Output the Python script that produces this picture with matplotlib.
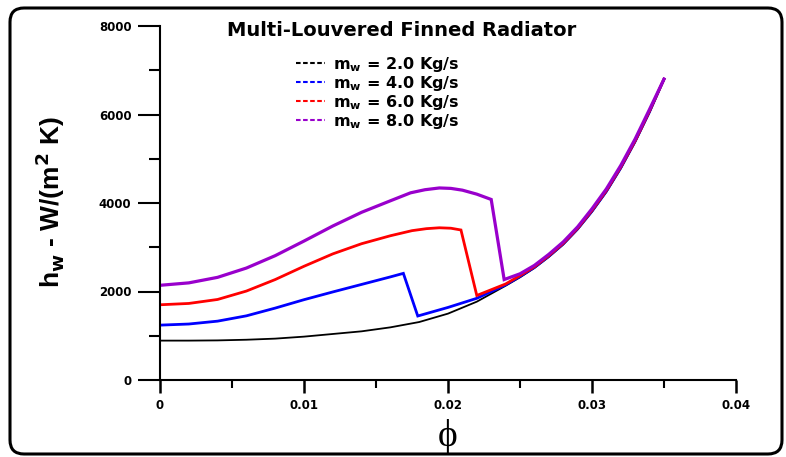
import numpy as np
import matplotlib
matplotlib.use("Agg")
import matplotlib.pyplot as plt
from matplotlib.lines import Line2D
from matplotlib.patches import FancyBboxPatch
from matplotlib.transforms import IdentityTransform

# values
x_black = [0, 0.002, 0.004, 0.006, 0.008, 0.010, 0.012, 0.014, 0.016, 0.018,
           0.020, 0.022, 0.024, 0.025, 0.026, 0.027, 0.028, 0.029, 0.030,
           0.031, 0.032, 0.033, 0.034, 0.035]
y_black = [890, 890, 895, 910, 935, 980, 1040, 1100, 1190, 1310,
           1500, 1770, 2130, 2320, 2530, 2780, 3060, 3400, 3800,
           4250, 4780, 5380, 6050, 6790]

x_blue = [0, 0.002, 0.004, 0.006, 0.008, 0.010, 0.012, 0.014, 0.016, 0.0169,
          0.0179, 0.020, 0.022, 0.024, 0.025, 0.026, 0.027, 0.028, 0.029,
          0.030, 0.031, 0.032, 0.033, 0.034, 0.035]
y_blue = [1240, 1265, 1330, 1450, 1625, 1815, 1990, 2160, 2330, 2410,
          1446, 1640, 1846, 2150, 2340, 2545, 2795, 3075, 3415,
          3815, 4265, 4795, 5395, 6065, 6800]

x_red = [0, 0.002, 0.004, 0.006, 0.008, 0.010, 0.012, 0.014, 0.016, 0.0175,
         0.0185, 0.0194, 0.0202, 0.0209, 0.022, 0.024, 0.025, 0.026, 0.027,
         0.028, 0.029, 0.030, 0.031, 0.032, 0.033, 0.034, 0.035]
y_red = [1700, 1730, 1820, 2010, 2270, 2570, 2850, 3080, 3260, 3375,
         3420, 3440, 3430, 3390, 1910, 2170, 2360, 2560, 2810,
         3090, 3430, 3835, 4285, 4815, 5410, 6085, 6800]

x_purple = [0, 0.002, 0.004, 0.006, 0.008, 0.010, 0.012, 0.014, 0.016, 0.0174,
            0.0184, 0.0194, 0.0202, 0.021, 0.022, 0.023, 0.0239, 0.025, 0.026,
            0.027, 0.028, 0.029, 0.030, 0.031, 0.032, 0.033, 0.034, 0.035]
y_purple = [2140, 2195, 2320, 2530, 2810, 3140, 3480, 3790, 4050, 4230,
            4300, 4340, 4330, 4290, 4200, 4080, 2270, 2400, 2590,
            2840, 3120, 3460, 3870, 4320, 4850, 5450, 6120, 6800]

labels = ["2.0", "4.0", "6.0", "8.0"]
colors = ["black", "#0000ff", "#ff0000", "#9900cc"]
xticks = [0, 0.01, 0.02, 0.03, 0.04]
xticklabels = ["0", "0.01", "0.02", "0.03", "0.04"]
yticks = [0, 2000, 4000, 6000, 8000]

W, H = 786, 457
fig = plt.figure(figsize=(W / 100, H / 100), dpi=100)
ax = fig.add_axes([160 / W, 1 - 380 / H, 576 / W, 354 / H])

series = [(x_black, y_black, 1.3), (x_blue, y_blue, 2.0),
          (x_red, y_red, 2.0), (x_purple, y_purple, 2.3)]
for (xs, ys, lw), c in zip(series, colors):
    ax.plot(xs, ys, color=c, lw=lw, solid_joinstyle="miter")

ax.set_xlim(0, 0.04)
ax.set_ylim(0, 8000)
ax.set_xticks(xticks)
ax.set_xticklabels(xticklabels)
ax.set_xticks([0.005, 0.015, 0.025, 0.035], minor=True)
ax.set_yticks(yticks)
ax.set_yticklabels([str(v) for v in yticks])
ax.set_yticks([1000, 3000, 5000, 7000], minor=True)

for s in ["top", "right"]:
    ax.spines[s].set_visible(False)
for s in ["left", "bottom"]:
    ax.spines[s].set_linewidth(1.5)

ax.tick_params(axis="y", which="major", length=15.5, width=1.5, pad=5)
ax.tick_params(axis="y", which="minor", length=8, width=1.5)
ax.tick_params(axis="x", which="major", length=9, width=1.8, pad=5)
ax.tick_params(axis="x", which="minor", length=6, width=1.5)
for lab in ax.get_xticklabels() + ax.get_yticklabels():
    lab.set_fontweight("bold")
    lab.set_fontsize(8.5)

fig.text(50 / W, 1 - 202 / H, r"h$_\mathbf{w}$ - W/(m$^\mathbf{2}$ K)",
         rotation=90, ha="center", va="center", fontsize=19, fontweight="bold",
         family=["Liberation Sans", "DejaVu Sans"])
fig.text(448 / W, 1 - 436 / H, "\u03d5", ha="center", va="center",
         fontsize=27, family=["Liberation Serif", "DejaVu Serif"])
fig.text(402 / W, 1 - 30 / H, "Multi-Louvered Finned Radiator",
         ha="center", va="center", fontsize=14, fontweight="bold")

handles = [Line2D([], [], color=c, lw=1.5, linestyle=(0, (2.2, 1.2))) for c in colors]
texts = [r"m$_\mathbf{w}$ = " + v + " Kg/s" for v in labels]
leg = fig.legend(handles, texts, loc="upper left", bbox_to_anchor=(288 / W, 1 - 47 / H),
                 frameon=False, handlelength=1.8, handletextpad=0.5,
                 labelspacing=0.0, borderpad=0, prop={"weight": "bold", "size": 11.5})

border = FancyBboxPatch((10, 3), 772, 446, boxstyle="round,pad=0,rounding_size=14",
                        transform=IdentityTransform(), fill=False, lw=2.2, ec="black")
fig.patches.append(border)

fig.savefig("out.png", dpi=100)
